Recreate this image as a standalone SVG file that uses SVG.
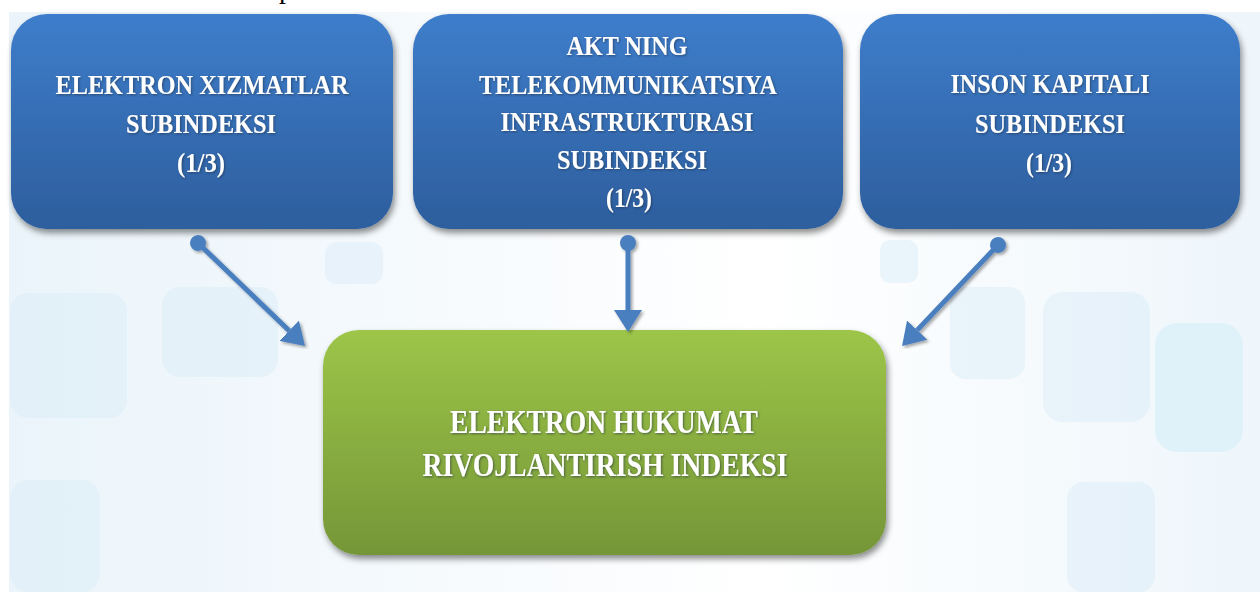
<svg xmlns="http://www.w3.org/2000/svg" width="1260" height="592" viewBox="0 0 1260 592">
<defs>
<linearGradient id="gBlue" x1="0" y1="0" x2="0" y2="1">
<stop offset="0" stop-color="#3e7dcb"/>
<stop offset="1" stop-color="#2d5e9d"/>
</linearGradient>
<linearGradient id="gGreen" x1="0" y1="0" x2="0" y2="1">
<stop offset="0" stop-color="#9dc548"/>
<stop offset="1" stop-color="#759638"/>
</linearGradient>
<linearGradient id="gBg" x1="0" y1="0" x2="1" y2="0">
<stop offset="0" stop-color="#eaf4fa"/>
<stop offset="0.45" stop-color="#fafcfe"/>
<stop offset="0.6" stop-color="#ffffff"/>
<stop offset="1" stop-color="#eef6fb"/>
</linearGradient>
<filter id="shadow" x="-10%" y="-10%" width="120%" height="130%">
<feDropShadow dx="2" dy="4" stdDeviation="3" flood-color="#000" flood-opacity="0.45"/>
</filter>
<filter id="lshadow" x="-20%" y="-20%" width="140%" height="140%">
<feDropShadow dx="2" dy="2" stdDeviation="1.5" flood-color="#000" flood-opacity="0.35"/>
</filter>
<filter id="tshadow" x="-5%" y="-20%" width="110%" height="150%">
<feDropShadow dx="1" dy="1" stdDeviation="0.8" flood-color="#1a2a40" flood-opacity="0.6"/>
</filter>
<marker id="arrow" viewBox="0 0 22 28" refX="0" refY="14" markerWidth="22" markerHeight="28" markerUnits="userSpaceOnUse" orient="auto">
<path d="M0,0 L22,14 L0,28 z" fill="#4a7ebf"/>
</marker>
<marker id="dot" viewBox="0 0 18 18" refX="9" refY="9" markerWidth="18" markerHeight="18" markerUnits="userSpaceOnUse" orient="auto">
<circle cx="9" cy="9" r="8" fill="#4a7ebf"/>
</marker>
</defs>
<style>
.t{font-family:'Liberation Serif','Times New Roman',serif;font-weight:bold;fill:#ffffff;text-anchor:middle;}
.s{font-size:28px;}
.g{font-size:33px;}
.tile{fill:#dcedf8;opacity:0.55;}
.conn{stroke:#4a7ebf;stroke-width:5;fill:none;}
</style>
<rect x="0" y="0" width="1260" height="592" fill="#ffffff"/>
<g id="background">
<rect x="9" y="12" width="1251" height="580" fill="url(#gBg)"/>
<rect class="tile" x="10" y="293" width="117" height="125" rx="18"/>
<rect class="tile" x="162" y="287" width="116" height="90" rx="18"/>
<rect class="tile" x="10" y="480" width="90" height="112" rx="18"/>
<rect class="tile" x="325" y="242" width="58" height="42" rx="12" opacity="0.35"/>
<rect class="tile" x="880" y="240" width="38" height="43" rx="10" opacity="0.35"/>
<rect class="tile" x="950" y="287" width="75" height="92" rx="16"/>
<rect class="tile" x="1043" y="292" width="107" height="130" rx="20" opacity="0.35"/>
<rect x="1155" y="323" width="88" height="129" rx="22" fill="#dcf0f8" opacity="0.85"/>
<rect class="tile" x="1067" y="482" width="88" height="110" rx="16"/>
</g>
<g id="fragment">
<text x="279" y="-2" style="font-family:'Liberation Serif','Times New Roman',serif;font-size:28px;fill:#000">p</text>
</g>
<g id="node-elektron-xizmatlar">
<rect x="11" y="14" width="382" height="215" rx="36" fill="url(#gBlue)" filter="url(#shadow)"/>
<g filter="url(#tshadow)">
<text class="t s" x="202" y="94" textLength="293" lengthAdjust="spacingAndGlyphs">ELEKTRON XIZMATLAR</text>
<text class="t s" x="201" y="133" textLength="150" lengthAdjust="spacingAndGlyphs">SUBINDEKSI</text>
<text class="t s" x="201" y="172" textLength="48" lengthAdjust="spacingAndGlyphs">(1/3)</text>
</g>
</g>
<g id="node-akt">
<rect x="413" y="14" width="430" height="215" rx="36" fill="url(#gBlue)" filter="url(#shadow)"/>
<g filter="url(#tshadow)">
<text class="t s" x="627" y="55" textLength="121" lengthAdjust="spacingAndGlyphs">AKT NING</text>
<text class="t s" x="628" y="94" textLength="298" lengthAdjust="spacingAndGlyphs">TELEKOMMUNIKATSIYA</text>
<text class="t s" x="627" y="131" textLength="253" lengthAdjust="spacingAndGlyphs">INFRASTRUKTURASI</text>
<text class="t s" x="632" y="169" textLength="150" lengthAdjust="spacingAndGlyphs">SUBINDEKSI</text>
<text class="t s" x="629" y="207" textLength="46" lengthAdjust="spacingAndGlyphs">(1/3)</text>
</g>
</g>
<g id="node-inson-kapitali">
<rect x="860" y="14" width="380" height="215" rx="36" fill="url(#gBlue)" filter="url(#shadow)"/>
<g filter="url(#tshadow)">
<text class="t s" x="1050" y="93" textLength="199" lengthAdjust="spacingAndGlyphs">INSON KAPITALI</text>
<text class="t s" x="1050" y="133" textLength="150" lengthAdjust="spacingAndGlyphs">SUBINDEKSI</text>
<text class="t s" x="1049" y="172" textLength="46" lengthAdjust="spacingAndGlyphs">(1/3)</text>
</g>
</g>
<g id="node-elektron-hukumat">
<rect x="323" y="330" width="563" height="225" rx="36" fill="url(#gGreen)" filter="url(#shadow)"/>
<g filter="url(#tshadow)">
<text class="t g" x="604" y="433" textLength="308" lengthAdjust="spacingAndGlyphs">ELEKTRON HUKUMAT</text>
<text class="t g" x="605" y="476" textLength="365" lengthAdjust="spacingAndGlyphs">RIVOJLANTIRISH INDEKSI</text>
</g>
</g>
<g id="connectors" filter="url(#lshadow)">
<line class="conn" x1="198" y1="243" x2="289.2" y2="330.7" marker-start="url(#dot)" marker-end="url(#arrow)"/>
<line class="conn" x1="628" y1="243" x2="628" y2="310" marker-start="url(#dot)" marker-end="url(#arrow)"/>
<line class="conn" x1="998" y1="245" x2="917.2" y2="330.1" marker-start="url(#dot)" marker-end="url(#arrow)"/>
</g>
</svg>
